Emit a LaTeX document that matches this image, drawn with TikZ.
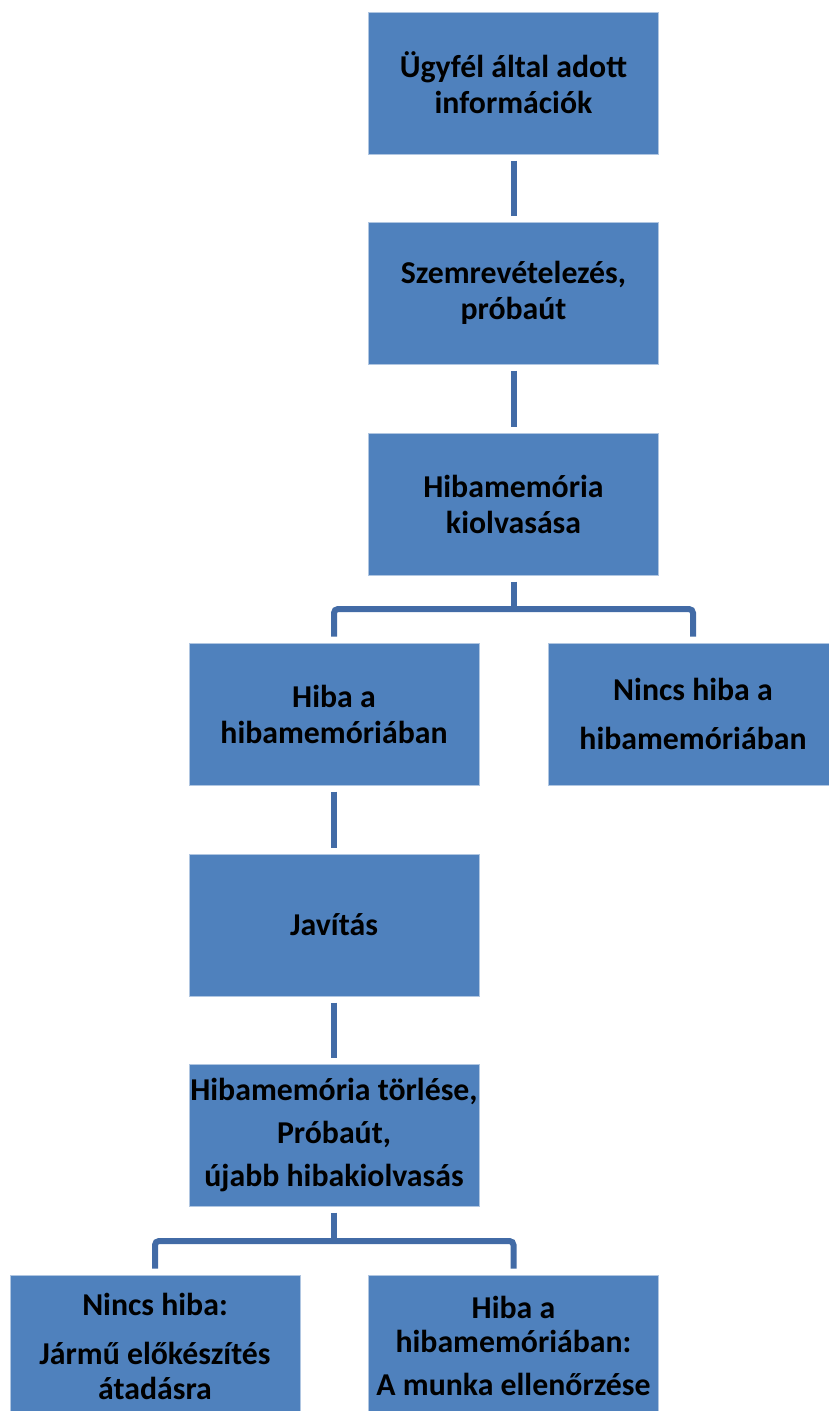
\documentclass[tikz,border=0pt]{standalone}
\usepackage{fontspec}
\setmainfont{Carlito}
\usetikzlibrary{calc}
\definecolor{stepfill}{RGB}{79,129,189}
\definecolor{linkblue}{RGB}{66,107,166}
\tikzset{
  step box/.style={fill=stepfill,draw=stepfill!45!white,line width=1pt,
    minimum width=290pt,minimum height=142pt,inner sep=0pt,align=center,
    font=\fontsize{31.8}{36}\selectfont\bfseries},
  flow link/.style={draw=linkblue,line width=6pt,shorten <=6pt,shorten >=6pt},
  stem link/.style={draw=linkblue,line width=6pt,shorten <=6pt},
  branch link/.style={flow link,rounded corners=4pt}
}

\begin{document}
\begin{tikzpicture}[x=1pt,y=-1pt]
  \useasboundingbox (0,0) rectangle (829,1411);
  \clip (0,0) rectangle (829,1411);

  \node[step box] (s1) at (513.5,83)   {Ügyfél által adott\\információk};
  \node[step box] (s2) at (513.5,293)  {Szemrevételezés,\\próbaút};
  \node[step box] (s3) at (513.5,504)  {Hibamemória\\kiolvasása};
  \node[step box] (s4) at (334,714)    {Hiba a\\hibamemóriában};
  \node[step box] (s5) at (693,714)    {Nincs hiba a\\[13pt]hibamemóriában};
  \node[step box] (s6) at (334,925)    {Javítás};
  \node[step box] (s7) at (334,1135)   {Hibamemória törlése,\\[7pt]Próbaút,\\[7pt]újabb hibakiolvasás};
  \node[step box] (s8) at (155,1346)   {Nincs hiba:\\[13pt]Jármű előkészítés\\[-1pt]átadásra};
  \node[step box] (s9) at (513.5,1346) {Hiba a\\[-2pt]hibamemóriában:\\[7pt]A munka ellenőrzése};

  \coordinate (j1) at (513.5,609);
  \coordinate (j2) at (334,1241);

  \draw[flow link] (s1) -- (s2);
  \draw[flow link] (s2) -- (s3);
  \draw[stem link] (s3.south) -- (j1);
  \draw[branch link] (s4.north) |- (j1) -| (s5.north);
  \draw[flow link] (s4) -- (s6);
  \draw[flow link] (s6) -- (s7);
  \draw[stem link] (s7.south) -- (j2);
  \draw[branch link] (s8.north) |- (j2) -| (s9.north);
\end{tikzpicture}
\end{document}
